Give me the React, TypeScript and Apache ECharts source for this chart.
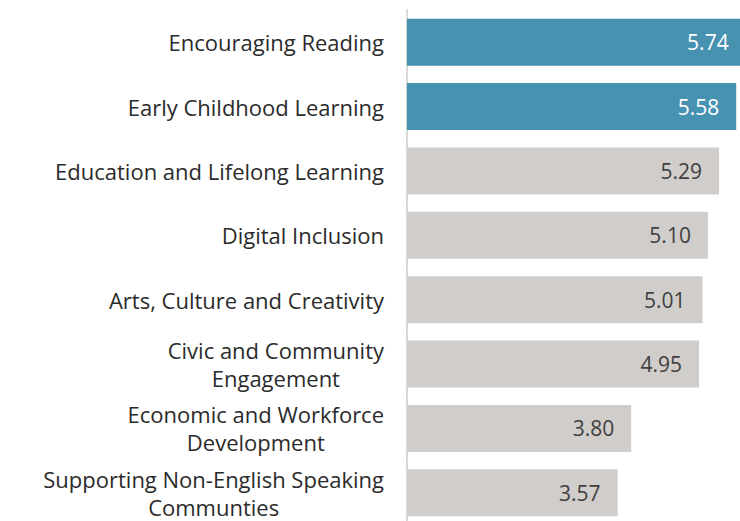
import React, { useEffect, useRef } from "react";
import * as echarts from "echarts";

const categories = [
  "Encouraging Reading",
  "Early Childhood Learning",
  "Education and Lifelong Learning",
  "Digital Inclusion",
  "Arts, Culture and Creativity",
  "Civic and Community\nEngagement",
  "Economic and Workforce\nDevelopment",
  "Supporting Non-English Speaking\nCommunties",
];
const values = [5.74, 5.58, 5.29, 5.1, 5.01, 4.95, 3.8, 3.57];
const highlighted = [true, true, false, false, false, false, false, false];

const FONT = "'Open Sans', Lato, sans-serif";
const LABEL_SIZE = 22;

function measure(text: string): number {
  const c = document.createElement("canvas").getContext("2d");
  if (!c) return text.length * 10;
  c.font = `${LABEL_SIZE}px ${FONT}`;
  return c.measureText(text).width;
}

export default function App() {
  const ref = useRef<HTMLDivElement>(null);
  useEffect(() => {
    if (!ref.current) return;
    const chart = echarts.init(ref.current, null, { renderer: "svg" });
    const rich: Record<string, any> = {};
    categories.forEach((c, i) => {
      const w = Math.max(...c.split("\n").map(measure)) + 2;
      rich["c" + i] = {
        width: w,
        align: "center",
        fontSize: LABEL_SIZE,
        fontFamily: FONT,
        color: "#2B2B2B",
        lineHeight: 28,
      };
    });
    chart.setOption({
      animation: false,
      grid: { left: 407, right: 0, top: 10, bottom: 0, containLabel: false },
      xAxis: {
        type: "value",
        min: 0,
        max: 6,
        show: false,
      },
      yAxis: {
        type: "category",
        inverse: true,
        data: categories,
        axisLine: { show: true, lineStyle: { color: "#D9D9D9", width: 2 } },
        axisTick: { show: false },
        axisLabel: {
          margin: 22,
          fontSize: LABEL_SIZE,
          fontFamily: FONT,
          color: "#2B2B2B",
          lineHeight: 28,
          rich,
          formatter: (v: string, i: number) =>
            v
              .split("\n")
              .map((l) => `{c${i}|${l}}`)
              .join("\n"),
        },
        splitLine: { show: false },
      },
      series: [
        {
          type: "bar",
          barCategoryGap: "27%",
          data: values.map((v, i) => ({
            value: v,
            itemStyle: { color: highlighted[i] ? "#4791B1" : "#D0CDCA" },
            label: { color: highlighted[i] ? "#FFFFFF" : "#404040" },
          })),
          label: {
            show: true,
            position: "insideRight",
            distance: 17,
            fontSize: 21,
            fontFamily: FONT,
            formatter: (p: any) => p.value.toFixed(2),
          },
        },
      ],
    });
    return () => chart.dispose();
  }, []);
  return (
    <div
      style={{
        position: "absolute",
        left: 0,
        top: 0,
        width: 740,
        height: 521,
        overflow: "hidden",
      }}
    >
      <div ref={ref} style={{ width: 761, height: 525 }} />
    </div>
  );
}
